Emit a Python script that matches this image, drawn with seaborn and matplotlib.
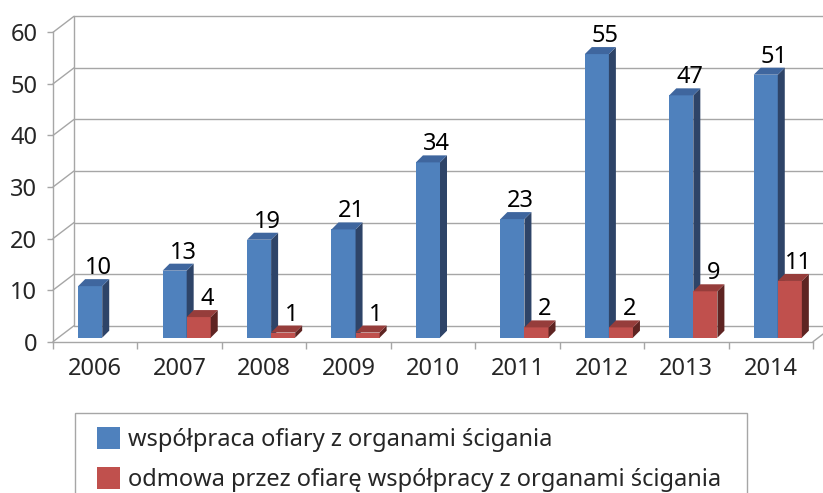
import numpy as np
import pandas as pd
import matplotlib
matplotlib.use("Agg")
import matplotlib.pyplot as plt
import seaborn as sns
from matplotlib.patches import Polygon, Rectangle

# -------------------------
# Data
# -------------------------
years = ["2006", "2007", "2008", "2009", "2010", "2011", "2012", "2013", "2014"]
wspolpraca = [10, 13, 19, 21, 34, 23, 55, 47, 51]
odmowa = [np.nan, 4, 1, 1, np.nan, 2, 2, 9, 11]
series_names = [
    "współpraca ofiary z organami ścigania",
    "odmowa przez ofiarę współpracy z organami ścigania",
]
y_ticks = [0, 10, 20, 30, 40, 50, 60]

front_colors = ["#4F81BD", "#C0504D"]
top_colors = ["#3F669E", "#963D3B"]
side_colors = ["#2E4468", "#5E2422"]
grid_color = "#A6A6A6"

W, H = 823, 493
FS = 17

# -------------------------
# Figure
# -------------------------
sns.set_style("white")
plt.rcParams["font.family"] = ["Noto Sans", "DejaVu Sans"]

fig = plt.figure(figsize=(W / 100, H / 100), dpi=100)
ax_left, ax_right, ax_top, ax_bottom = 53, 813, 32.3, 341.7
ax = fig.add_axes([ax_left / W, (H - ax_bottom) / H,
                   (ax_right - ax_left) / W, (ax_bottom - ax_top) / H])

ppx = (ax_right - ax_left) / len(years)
ppy = (ax_bottom - ax_top) / 60

df = pd.DataFrame({
    "rok": years * 2,
    "liczba": wspolpraca + odmowa,
    "seria": [series_names[0]] * len(years) + [series_names[1]] * len(years),
})

sns.barplot(data=df, x="rok", y="liczba", hue="seria", palette=front_colors,
            width=0.57, saturation=1, linewidth=0, ax=ax, legend=False)

ax.set_xlim(-0.5, len(years) - 0.5)
ax.set_ylim(0, 60)

# depth of back wall and of the bars (pixels -> data)
wx, wy = 21 / ppx, 16 / ppy
bx, by = 7 / ppx, 7 / ppy
sx, sy = 7 / ppx, 4 / ppy

# back wall grid, floor and connectors
x0 = -0.5
x1 = len(years) - 0.5
for t in y_ticks:
    ax.plot([x0 + wx, x1 + wx + 1], [t + wy, t + wy], color=grid_color,
            lw=1.0, zorder=0, clip_on=False)
    ax.plot([x0, x0 + wx], [t, t + wy], color=grid_color, lw=1.0,
            zorder=0, clip_on=False)
ax.plot([x0 + wx, x0 + wx], [wy, 60 + wy], color=grid_color, lw=1.0,
        zorder=0, clip_on=False)
ax.plot([x1, x1 + wx], [0, wy], color=grid_color, lw=1.0, zorder=0,
        clip_on=False)

# 3D bars
for k, cont in enumerate(ax.containers):
    for p in cont.patches:
        h = p.get_height()
        if not np.isfinite(h) or h <= 0:
            continue
        p.set_x(p.get_x() + sx)
        p.set_y(sy)
        p.set_zorder(2 + k)
        px0 = p.get_x()
        px1 = px0 + p.get_width()
        py0 = sy
        py1 = sy + h
        side = Polygon([(px1, py0), (px1 + bx, py0 + by), (px1 + bx, py1 + by),
                        (px1, py1)], closed=True, facecolor=side_colors[k],
                       edgecolor="none", zorder=2 + k, clip_on=False)
        top = Polygon([(px0, py1), (px1, py1), (px1 + bx, py1 + by),
                       (px0 + bx, py1 + by)], closed=True,
                      facecolor=top_colors[k], edgecolor="none",
                      zorder=2 + k, clip_on=False)
        ax.add_patch(side)
        ax.add_patch(top)
        ax.annotate(f"{h:g}", xy=((px0 + px1) / 2, py1), xytext=(6, 8.6),
                    textcoords="offset points", ha="center", va="baseline",
                    fontsize=FS, color="black", zorder=5)

# axes styling
sns.despine(ax=ax, top=True, right=True)
for s in ["left", "bottom"]:
    ax.spines[s].set_color(grid_color)
    ax.spines[s].set_linewidth(1.0)

ax.set_yticks(y_ticks)
ax.set_xticks(range(len(years)))
ax.set_xticklabels(years)
ax.set_xticks(np.arange(-0.5, len(years)), minor=True)
ax.tick_params(axis="y", which="major", length=4.3, width=1.0,
               color=grid_color, pad=7, labelsize=FS, left=True)
ax.tick_params(axis="x", which="major", length=0, pad=11, labelsize=FS)
ax.tick_params(axis="x", which="minor", length=5, width=1.0,
               color=grid_color, bottom=True)
ax.set_xlabel("")
ax.set_ylabel("")
ax.grid(False)

# legend
frame = Rectangle((75 / W, -0.1), (747 - 75) / W, (H - 413) / H + 0.1,
                  transform=fig.transFigure, facecolor="white",
                  edgecolor=grid_color, lw=1.0)
fig.patches.append(frame)
handles = [Rectangle((0, 0), 1, 1, facecolor=c, edgecolor="none")
           for c in front_colors]
fig.legend(handles, series_names, loc="upper left",
           bbox_to_anchor=(96.7 / W, 1 - 427 / H), frameon=False,
           fontsize=FS, handlelength=0.97, handleheight=1.05,
           handletextpad=0.34, labelspacing=0.65, borderpad=0,
           borderaxespad=0)

fig.savefig("out.png", dpi=100)
